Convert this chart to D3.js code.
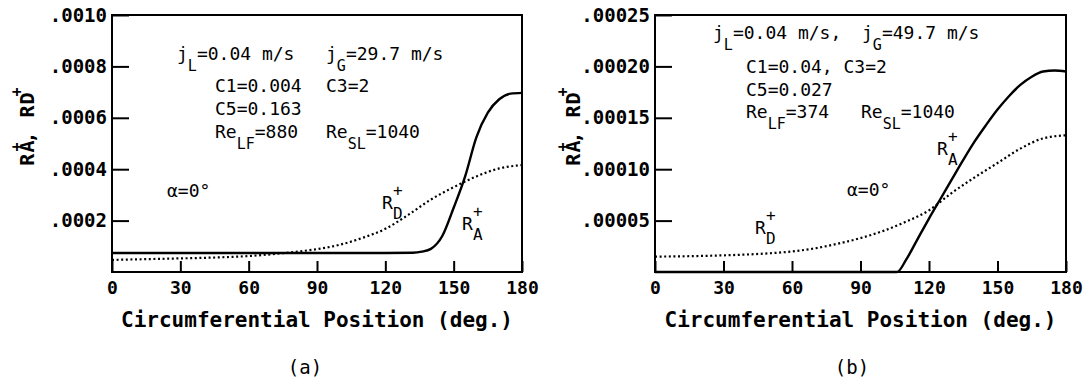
<!DOCTYPE html>
<html>
<head>
<meta charset="utf-8">
<script src="https://cdn.jsdelivr.net/npm/d3@7"></script>
<style>
  body { margin: 0; background: #fff; }
  svg { display: block; }
  text { font-family: "DejaVu Sans Mono", monospace; fill: #000; }
  .tick text { font-weight: bold; }
  .note { font-size: 18px; }
</style>
</head>
<body>
<div id="chart"></div>
<script>
// ---- data ----
const xTicks = [0, 30, 60, 90, 120, 150, 180];

// panel (a): jG = 29.7 m/s
const yTicksA = [0.0002, 0.0004, 0.0006, 0.0008, 0.0010];
const angRaA = [0, 60, 120, 132, 136, 140, 145, 150, 155, 160, 165, 170, 175, 180];
const raA = [0.000074, 0.000074, 0.000074, 0.000075, 0.000079, 0.000090, 0.000140, 0.000250,
             0.000371, 0.000525, 0.000620, 0.000672, 0.000694, 0.000697];
const angRdA = [0, 10, 20, 30, 40, 50, 60, 70, 80, 90, 100, 110, 120, 130, 140, 150, 160, 170, 180];
const rdA = [0.000047, 0.000049, 0.000051, 0.000053, 0.000055, 0.000058, 0.000062, 0.000069,
             0.000078, 0.000089, 0.000106, 0.000133, 0.000168, 0.000222, 0.000282, 0.000330,
             0.000372, 0.000403, 0.000416];

// panel (b): jG = 49.7 m/s
const yTicksB = [0.00005, 0.00010, 0.00015, 0.00020, 0.00025];
const angRaB = [0, 60, 106, 110, 115, 120, 125, 130, 135, 140, 145, 150, 155, 160, 165, 170, 175, 180];
const raB = [0, 0, 0, 0.000012, 0.000032, 0.000052, 0.000071, 0.000090, 0.000109, 0.000127,
             0.000143, 0.000158, 0.000171, 0.000182, 0.000190, 0.000195, 0.000196, 0.000195];
const angRdB = [0, 10, 20, 30, 40, 50, 60, 70, 80, 90, 100, 110, 120, 130, 140, 150, 160, 170, 180];
const rdB = [0.000015, 0.0000152, 0.0000156, 0.0000162, 0.000017, 0.0000182, 0.00002, 0.000023,
             0.0000275, 0.000033, 0.00004, 0.000049, 0.00006, 0.000077, 0.000092, 0.000106,
             0.00012, 0.00013, 0.000133];

const W = 1091, H = 379;

let svg = d3.select('#chart')
    .append('svg')
    .attr('width', W)
    .attr('height', H);

// text with subscripts, parts = [[str, 'sub'?], ...]
function richText(parent, x, y, parts) {
    let t = parent.append('text').attr('class', 'note').attr('x', x).attr('y', y);
    let shift = 0;
    parts.forEach(p => {
        let isSub = p[1] === 'sub';
        let off = isSub ? 11 : 0;
        t.append('tspan')
            .attr('dy', off - shift)
            .attr('font-size', isSub ? 15 : null)
            .text(p[0]);
        shift = off;
    });
    return t;
}

// R with subscript letter and a + above it
function rLabel(parent, x, y, sub) {
    parent.append('text').attr('class', 'note').attr('x', x).attr('y', y).text('R');
    parent.append('text').attr('x', x + 11).attr('y', y + 10).attr('font-size', 16).text(sub);
    parent.append('text').attr('x', x + 11).attr('y', y - 13).attr('font-size', 16).text('+');
}

function panel(p) {
    let g = svg.append('g').attr('transform', `translate(${p.left}, ${p.top})`);

    const x = d3.scaleLinear().domain([0, 180]).range([0, p.w]);
    const y = d3.scaleLinear().domain([0, p.ymax]).range([p.h, 0]);

    // x axis, ticks pointing inward
    let xa = g.append('g')
        .attr('transform', `translate(0, ${p.h})`)
        .call(d3.axisBottom(x).tickValues(xTicks).tickSize(-11).tickPadding(9).tickFormat(d3.format('d')));
    xa.select('.domain').remove();
    xa.selectAll('line').attr('stroke-width', 2);
    xa.selectAll('text').attr('font-size', 18).attr('font-family', '"DejaVu Sans Mono", monospace');

    // y axis
    let ya = g.append('g')
        .call(d3.axisLeft(y).tickValues(p.yTicks).tickSize(-17).tickPadding(5)
            .tickFormat(d => d3.format(p.fmt)(d).replace(/^0/, '')));
    ya.select('.domain').remove();
    ya.selectAll('line').attr('stroke-width', 2);
    ya.selectAll('text').attr('font-size', 19).attr('font-family', '"DejaVu Sans Mono", monospace');

    // frame
    g.append('rect')
        .attr('width', p.w).attr('height', p.h)
        .attr('fill', 'none').attr('stroke', '#000').attr('stroke-width', 2);

    const line = d3.line()
        .x(d => x(d[0]))
        .y(d => y(d[1]))
        .curve(d3.curveMonotoneX);

    g.append('path')
        .datum(d3.zip(p.angRd, p.rd))
        .attr('d', line)
        .attr('fill', 'none')
        .attr('stroke', '#000')
        .attr('stroke-width', 2.2)
        .attr('stroke-dasharray', '2,2.6');

    g.append('path')
        .datum(d3.zip(p.angRa, p.ra))
        .attr('d', line)
        .attr('fill', 'none')
        .attr('stroke', '#000')
        .attr('stroke-width', 2.4);

    // x axis title
    g.append('text')
        .attr('x', p.w / 2).attr('y', 312)
        .attr('text-anchor', 'middle')
        .attr('font-size', 21).attr('font-weight', 'bold')
        .text('Circumferential Position (deg.)');

    // y axis title: RA+, RD+
    let yt = svg.append('text')
        .attr('transform', `translate(${p.ytx}, 126) rotate(-90)`)
        .attr('text-anchor', 'middle')
        .attr('font-size', 20).attr('font-weight', 'bold')
        .attr('letter-spacing', 1);
    yt.append('tspan').text('RA');
    yt.append('tspan').attr('dy', -12).attr('dx', -12).attr('font-size', 15).text('+');
    yt.append('tspan').attr('dy', 12).attr('dx', -2).text(', RD');
    yt.append('tspan').attr('dy', -12).attr('dx', -5).attr('font-size', 15).text('+');

    // caption
    svg.append('text')
        .attr('x', p.capX).attr('y', 374)
        .attr('text-anchor', 'middle')
        .attr('font-size', 19)
        .text(p.cap);
}

panel({left: 112, top: 15, w: 410, h: 257, ymax: 0.0010, yTicks: yTicksA, fmt: '.4f',
       angRa: angRaA, ra: raA, angRd: angRdA, rd: rdA, ytx: 34, capX: 305, cap: '(a)'});
panel({left: 655, top: 15, w: 411, h: 257, ymax: 0.00025, yTicks: yTicksB, fmt: '.5f',
       angRa: angRaB, ra: raB, angRd: angRdB, rd: rdB, ytx: 580, capX: 852, cap: '(b)'});

// annotations (a)
richText(svg, 177, 60, [['j'], ['L', 'sub'], ['=0.04 m/s']]);
richText(svg, 326, 60, [['j'], ['G', 'sub'], ['=29.7 m/s']]);
richText(svg, 215, 92, [['C1=0.004']]);
richText(svg, 326, 92, [['C3=2']]);
richText(svg, 215, 115, [['C5=0.163']]);
richText(svg, 215, 138, [['Re'], ['LF', 'sub'], ['=880']]);
richText(svg, 326, 138, [['Re'], ['SL', 'sub'], ['=1040']]);
richText(svg, 167, 197, [['α=0°']]);
rLabel(svg, 382, 209, 'D');
rLabel(svg, 462, 230, 'A');

// annotations (b)
richText(svg, 713, 39, [['j'], ['L', 'sub'], ['=0.04 m/s,']]);
richText(svg, 862, 39, [['j'], ['G', 'sub'], ['=49.7 m/s']]);
richText(svg, 746, 73, [['C1=0.04, C3=2']]);
richText(svg, 746, 96, [['C5=0.027']]);
richText(svg, 746, 118, [['Re'], ['LF', 'sub'], ['=374']]);
richText(svg, 861, 118, [['Re'], ['SL', 'sub'], ['=1040']]);
richText(svg, 847, 196, [['α=0°']]);
rLabel(svg, 755, 234, 'D');
rLabel(svg, 937, 155, 'A');
</script>
</body>
</html>
